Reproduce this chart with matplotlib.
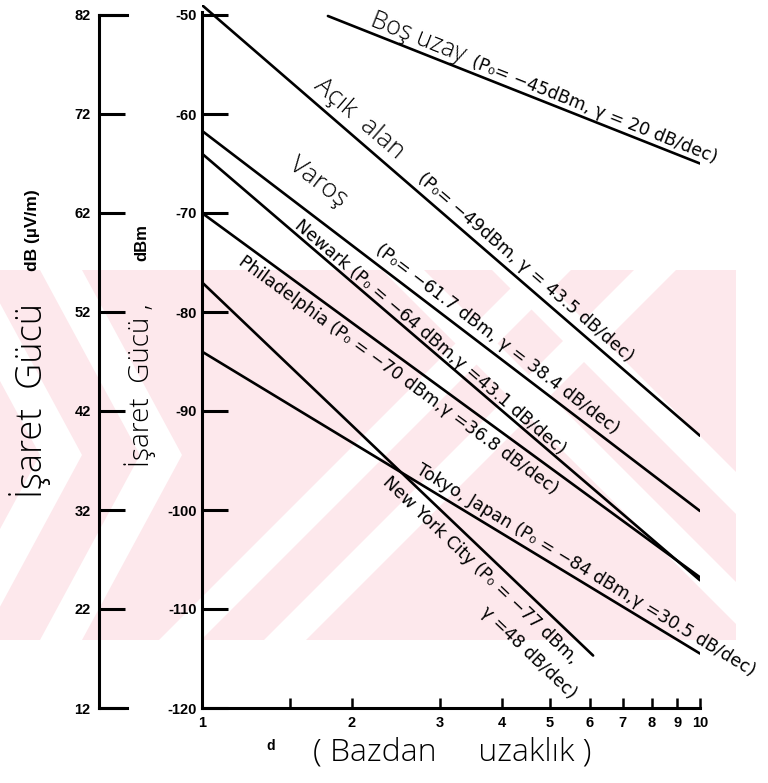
import numpy as np
import matplotlib
matplotlib.use('Agg')
import matplotlib.pyplot as plt
from matplotlib.patches import Polygon, Rectangle

# ---------------- data ----------------
series_names = ['Boş uzay', 'Açık alan', 'Varoş', 'Newark', 'Philadelphia',
                'Tokyo, Japan', 'New York City']
d_start = [1.79, 1.0, 1.0, 1.0, 1.0, 1.0, 1.0]
d_end = [10.0, 10.0, 10.0, 10.0, 10.0, 10.0, 6.1]
p_start = [-50.1, -49.0, -61.7, -64.0, -70.0, -84.0, -77.0]
p_end = [-65.0, -92.5, -100.1, -107.1, -106.8, -114.5, -114.7]

dbm_ticks = [-50, -60, -70, -80, -90, -100, -110, -120]
uv_ticks = [82, 72, 62, 52, 42, 32, 22, 12]
x_ticks = [1, 1.5, 2, 3, 4, 5, 6, 7, 8, 9, 10]
x_ticklabels = ['1', '', '2', '3', '4', '5', '6', '7', '8', '9', '10']

hand_names = ['Boş uzay', 'Açık  alan', 'Varoş']
param_texts = [
    '(P₀= −45dBm, γ = 20 dB/dec)',
    '(P₀= −49dBm, γ = 43.5 dB/dec)',
    '(P₀= −61.7 dBm, γ = 38.4 dB/dec)',
    'Newark (P₀ = −64 dBm,γ =43.1 dB/dec)',
    'Philadelphia (P₀ = −70 dBm,γ =36.8 dB/dec)',
    'Tokyo, Japan (P₀ = −84 dBm,γ =30.5 dB/dec)',
    'New York City (P₀ = −77 dBm,',
    'γ =48 dB/dec)',
]

# ---------------- figure ----------------
W, H = 768, 783
fig = plt.figure(figsize=(W / 100, H / 100), dpi=100)
FONT = ['Liberation Sans', 'DejaVu Sans']
PRINT = ['DejaVu Sans']
HAND = ['Open Sans', 'DejaVu Sans']
PINK = '#fde8ec'

def fx(px):
    return px / W

def fy(py):
    return 1 - py / H

# ---- background watermark (light pink chevron band) ----
band_top, band_bot, band_right = 270, 640, 736
band = Rectangle((0, fy(band_bot)), fx(band_right), fy(band_top) - fy(band_bot),
                 transform=fig.transFigure, facecolor=PINK, edgecolor='none',
                 zorder=-10)
fig.patches.append(band)

def white_poly(pts):
    p = Polygon([(fx(x), fy(y)) for x, y in pts], closed=True,
                transform=fig.transFigure, facecolor='white',
                edgecolor='none', zorder=-9)
    p.set_clip_path(band)
    fig.patches.append(p)

sw = 42
# left '>' chevron stripes
for x0 in [-60, 40]:
    white_poly([(x0, band_top), (x0 + sw, band_top), (x0 + sw + 100, 455),
                (x0 + sw, band_bot), (x0, band_bot), (x0 + 100, 455)])
# '/' stripes through (xc, 450)
for xc in [349, 454]:
    pts = []
    for y in (band_bot + 5, band_top - 5):
        pts.append((xc + (450 - y), y))
    white_poly([pts[0], (pts[0][0] + sw, pts[0][1]),
                (pts[1][0] + sw, pts[1][1]), pts[1]])
# '\' stripes through (xc, 450)
for xc in [562, 672]:
    pts = []
    for y in (band_top - 5, band_bot + 5):
        pts.append((xc + (y - 450), y))
    white_poly([pts[0], (pts[0][0] + sw, pts[0][1]),
                (pts[1][0] + sw, pts[1][1]), pts[1]])

# main axes: d=1 at x=202, d=10 at x=700 ; -120 at y=708, -50 at y=15
ypx_per_db = (708 - 15) / 70.0
top_val = -49.0
top_px = 15 - (top_val + 50) * ypx_per_db
ax = fig.add_axes([fx(202), fy(708), fx(700) - fx(202), fy(top_px) - fy(708)])
ax.set_xscale('log')
ax.set_xlim(1, 10)
ax.set_ylim(-120, top_val)
ax.patch.set_alpha(0)
for s in ['top', 'right']:
    ax.spines[s].set_visible(False)
for s in ['left', 'bottom']:
    ax.spines[s].set_linewidth(2.2)
ax.spines['left'].set_bounds(-120, -49.7)

ax.set_xticks(x_ticks)
ax.set_xticklabels(x_ticklabels)
ax.xaxis.set_minor_locator(matplotlib.ticker.NullLocator())
ax.tick_params(axis='x', direction='in', length=7, width=1.8, pad=6,
               labelsize=10.5)
ax.set_yticks(dbm_ticks)
ax.set_yticklabels([str(t) for t in dbm_ticks])
ax.tick_params(axis='y', direction='in', length=19, width=2.2, pad=4,
               labelsize=10.5)
for lab in ax.get_xticklabels() + ax.get_yticklabels():
    lab.set_fontweight('bold')
    lab.set_family(FONT)

for ds, de, ps, pe in zip(d_start, d_end, p_start, p_end):
    ax.plot([ds, de], [ps, pe], color='black', lw=1.9, solid_capstyle='round')

# secondary (left) scale: dB(uV/m) = dBm + 132
ax2 = fig.add_axes([fx(99), fy(708), 0.02, fy(top_px) - fy(708)])
ax2.set_ylim(-120 + 132, top_val + 132)
ax2.set_xlim(0, 1)
ax2.patch.set_alpha(0)
for s in ['top', 'right', 'bottom']:
    ax2.spines[s].set_visible(False)
ax2.spines['left'].set_linewidth(2.2)
ax2.spines['left'].set_bounds(12, 82)
ax2.set_xticks([])
ax2.set_yticks(uv_ticks)
ax2.set_yticklabels([str(t) for t in uv_ticks])
ax2.tick_params(axis='y', direction='in', length=19, width=2.2, pad=6,
                labelsize=10.5)
for lab in ax2.get_yticklabels():
    lab.set_fontweight('bold')
    lab.set_family(FONT)
for v in [82, 12]:
    ax2.plot([0, 1.8], [v, v], color='black', lw=2.2, clip_on=False,
             transform=ax2.get_yaxis_transform())

fig.canvas.draw()

# ---------------- labels along lines ----------------
def line_label(i, x_target, text, off_px, size=12.5, family=PRINT,
               weight='normal'):
    """x_target: pixel x (from left) of the text start; off_px: offset
    perpendicular to the line (positive = above)."""
    ds, de, ps, pe = d_start[i], d_end[i], p_start[i], p_end[i]
    x0, y0 = ax.transData.transform((ds, ps))
    x1, y1 = ax.transData.transform((de, pe))
    ang = np.arctan2(y1 - y0, x1 - x0)
    nx, ny = -np.sin(ang), np.cos(ang)
    xl = x_target - nx * off_px
    t = (xl - x0) / (x1 - x0)
    px = x0 + t * (x1 - x0) + nx * off_px
    py = y0 + t * (y1 - y0) + ny * off_px
    fig.text(px / W, py / H, text, rotation=np.degrees(ang),
             rotation_mode='anchor', ha='left', va='center',
             fontsize=size, family=family, fontweight=weight)

# Boş uzay
line_label(0, 372, hand_names[0], 13, size=18, family=HAND, weight='light')
line_label(0, 472, param_texts[0], 11)
# Açık alan
line_label(1, 317, hand_names[1], 17, size=19, family=HAND, weight='light')
line_label(1, 420, param_texts[1], 13)
# Varoş
line_label(2, 292, hand_names[2], 30, size=19, family=HAND, weight='light')
line_label(2, 377, param_texts[2], 13)
# Newark, Philadelphia, Tokyo, NYC
line_label(3, 297, param_texts[3], 9)
line_label(4, 240, param_texts[4], -15)
line_label(5, 418, param_texts[5], 12)
line_label(6, 385, param_texts[6], -16)
line_label(6, 483, param_texts[7], -43)

# ---------------- axis titles ----------------
fig.text(fx(30), fy(400), 'İşaret  Gücü', rotation=90,
         ha='center', va='center', fontsize=26, family=HAND, fontweight='light')
fig.text(fx(32), fy(230), 'dB (µV/m)', rotation=90,
         ha='center', va='center', fontsize=12.5, family=FONT, fontweight='bold')
fig.text(fx(140), fy(385), 'İşaret  Gücü ,', rotation=90,
         ha='center', va='center', fontsize=20, family=HAND, fontweight='light')
fig.text(fx(142), fy(243), 'dBm', rotation=90,
         ha='center', va='center', fontsize=12, family=FONT, fontweight='bold')
fig.text(fx(271), fy(746), 'd', ha='center', va='center', fontsize=10,
         family=FONT, fontweight='bold')
fig.text(fx(452), fy(752), '( Bazdan     uzaklık )', ha='center', va='center',
         fontsize=23, family=HAND, fontweight='light')

fig.savefig('out.png', dpi=100)
